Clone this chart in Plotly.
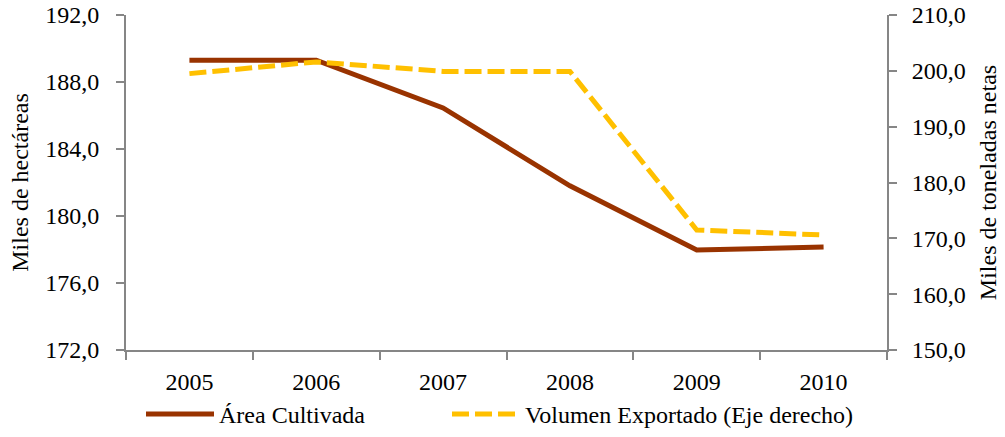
import plotly.graph_objects as go

years = ["2005", "2006", "2007", "2008", "2009", "2010"]
area_cultivada = [189.3, 189.3, 186.45, 181.8, 177.97, 178.15]
volumen_exportado = [199.5, 201.6, 199.9, 199.9, 171.5, 170.6]

font_family = "Liberation Serif, Times New Roman, serif"
axis_color = "#868686"
FS = 24

fig = go.Figure()
fig.add_trace(go.Scatter(
    x=years, y=area_cultivada, name="Área Cultivada", mode="lines",
    line=dict(color="#993300", width=5), yaxis="y", legend="legend"))
fig.add_trace(go.Scatter(
    x=years, y=volumen_exportado, name="Volumen Exportado (Eje derecho)", mode="lines",
    line=dict(color="#FFC000", width=5, dash="17px,6px"), yaxis="y2", legend="legend2"))

axis_common = dict(showline=True, linecolor=axis_color, linewidth=2, ticks="outside",
                   ticklen=8, tickcolor=axis_color, tickwidth=2, showgrid=False,
                   zeroline=False, automargin=False)

leg_common = dict(orientation="h", xref="container", yref="container",
                  xanchor="left", y=0.0, yanchor="bottom",
                  font=dict(size=FS), bgcolor="rgba(0,0,0,0)")

fig.update_layout(
    width=1005, height=437,
    margin=dict(l=126, r=118, t=15, b=87),
    paper_bgcolor="white", plot_bgcolor="white",
    separators=",.",
    font=dict(family=font_family, size=FS, color="black"),
    xaxis=dict(type="category", range=[-0.5, 5.5], tickson="boundaries",
               ticklabelstandoff=9, **axis_common),
    yaxis=dict(range=[172, 192], dtick=4, tickformat=".1f", ticklabelstandoff=12,
               title=dict(text="Miles de hectáreas", font=dict(size=FS), standoff=10),
               **axis_common),
    yaxis2=dict(range=[150, 210], dtick=10, tickformat=".1f", overlaying="y", side="right",
                ticklabelstandoff=10,
                title=dict(text="Miles de toneladas netas", font=dict(size=FS), standoff=14),
                **axis_common),
    legend=dict(x=141 / 1005, itemwidth=68, **leg_common),
    legend2=dict(x=447 / 1005, itemwidth=68, **leg_common),
    showlegend=True,
)

fig.write_html("out.html", config={"displayModeBar": False},
               post_script="document.body.style.margin='0';")
